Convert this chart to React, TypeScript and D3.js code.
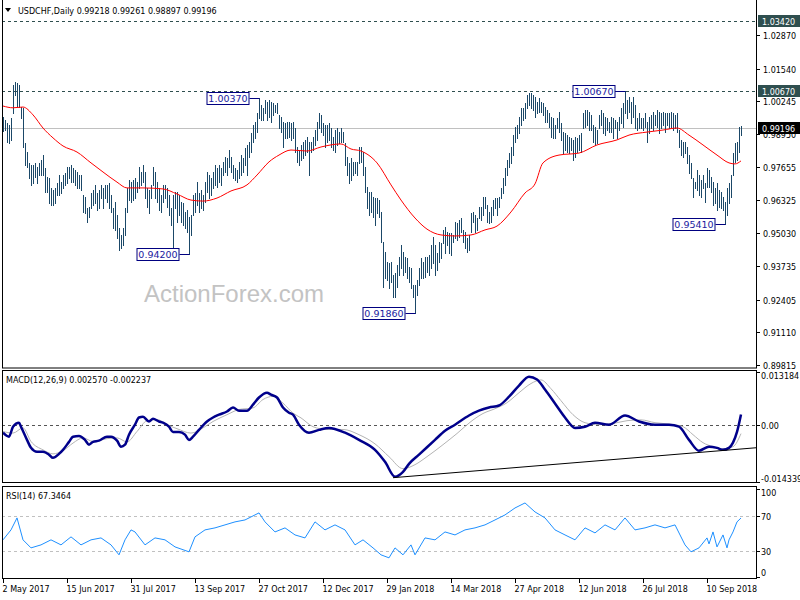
import React from "react";
import * as d3 from "d3";

// ---- Price bars (daily high / low), 2 May 2017 .. 3 Oct 2018 ----
const barHigh = [
  0.9964,0.9951,0.9938,0.9931,0.9958,1.0089,1.0103,1.0096,1.0089,1.0004,
  0.9997,0.9859,0.9826,0.9779,0.9773,0.9773,0.9779,0.9766,0.9779,0.9793,
  0.9812,0.9760,0.9727,0.9720,0.9681,0.9674,0.9681,0.9700,0.9733,0.9707,
  0.9733,0.9740,0.9766,0.9766,0.9773,0.9760,0.9753,0.9746,0.9733,0.9733,
  0.9654,0.9648,0.9601,0.9608,0.9661,0.9674,0.9694,0.9661,0.9674,0.9694,
  0.9681,0.9694,0.9694,0.9700,0.9654,0.9601,0.9628,0.9575,0.9522,0.9496,
  0.9522,0.9601,0.9681,0.9714,0.9707,0.9714,0.9720,0.9707,0.9766,0.9746,
  0.9773,0.9746,0.9681,0.9674,0.9694,0.9766,0.9746,0.9707,0.9681,0.9654,
  0.9694,0.9694,0.9681,0.9654,0.9601,0.9654,0.9667,0.9667,0.9654,0.9628,
  0.9621,0.9588,0.9595,0.9568,0.9575,0.9654,0.9661,0.9707,0.9661,0.9674,
  0.9654,0.9707,0.9746,0.9733,0.9720,0.9746,0.9773,0.9760,0.9773,0.9760,
  0.9786,0.9806,0.9799,0.9832,0.9806,0.9773,0.9760,0.9753,0.9786,0.9812,
  0.9799,0.9839,0.9852,0.9865,0.9898,0.9931,0.9944,0.9977,1.0037,1.0010,
  0.9997,1.0030,1.0023,1.0030,1.0023,1.0017,1.0010,1.0017,0.9971,0.9964,
  0.9944,0.9938,0.9944,0.9944,0.9938,0.9944,0.9918,0.9845,0.9832,0.9852,
  0.9865,0.9872,0.9885,0.9865,0.9865,0.9885,0.9911,0.9944,0.9977,0.9971,
  0.9938,0.9931,0.9931,0.9938,0.9918,0.9885,0.9911,0.9918,0.9905,0.9918,
  0.9905,0.9859,0.9806,0.9779,0.9799,0.9786,0.9786,0.9786,0.9845,0.9845,
  0.9826,0.9766,0.9687,0.9667,0.9667,0.9648,0.9641,0.9641,0.9634,0.9588,
  0.9469,0.9430,0.9390,0.9384,0.9390,0.9337,0.9344,0.9377,0.9410,0.9456,
  0.9430,0.9410,0.9403,0.9371,0.9364,0.9298,0.9298,0.9318,0.9364,0.9403,
  0.9390,0.9410,0.9410,0.9417,0.9456,0.9489,0.9456,0.9423,0.9469,0.9463,
  0.9516,0.9529,0.9509,0.9502,0.9502,0.9496,0.9549,0.9542,0.9555,0.9562,
  0.9516,0.9509,0.9483,0.9496,0.9582,0.9588,0.9575,0.9562,0.9608,0.9608,
  0.9648,0.9648,0.9615,0.9588,0.9608,0.9634,0.9641,0.9641,0.9648,0.9681,
  0.9720,0.9760,0.9793,0.9819,0.9845,0.9892,0.9925,0.9931,0.9964,0.9997,
  0.9997,1.0017,1.0050,1.0056,1.0056,1.0050,1.0043,1.0023,1.0037,1.0023,
  1.0017,1.0004,0.9990,0.9977,0.9964,0.9958,0.9931,0.9958,0.9984,0.9938,
  0.9905,0.9898,0.9892,0.9885,0.9878,0.9872,0.9885,0.9878,0.9892,0.9898,
  0.9977,0.9990,0.9990,0.9984,0.9971,0.9931,0.9925,0.9911,0.9971,0.9990,
  0.9977,0.9964,0.9958,0.9944,0.9964,0.9958,0.9951,0.9944,0.9964,0.9997,
  1.0017,1.0067,1.0030,1.0043,1.0023,1.0043,1.0010,0.9958,0.9977,0.9958,
  0.9958,0.9977,0.9944,0.9964,0.9971,0.9984,0.9971,0.9990,0.9984,0.9977,
  0.9984,0.9977,0.9977,0.9977,0.9984,0.9977,0.9971,0.9977,0.9911,0.9872,
  0.9865,0.9865,0.9845,0.9812,0.9779,0.9720,0.9707,0.9753,0.9733,0.9714,
  0.9733,0.9700,0.9760,0.9753,0.9727,0.9707,0.9681,0.9700,0.9674,0.9667,
  0.9648,0.9628,0.9681,0.9700,0.9733,0.9819,0.9859,0.9865,0.9925,0.9926,
];
const barLow = [
  0.9907,0.9911,0.9865,0.9859,0.9872,0.9977,1.0050,1.0004,1.0004,0.9958,
  0.9845,0.9773,0.9766,0.9720,0.9694,0.9700,0.9727,0.9700,0.9733,0.9733,
  0.9733,0.9667,0.9667,0.9621,0.9615,0.9615,0.9621,0.9654,0.9654,0.9661,
  0.9681,0.9694,0.9700,0.9720,0.9707,0.9707,0.9694,0.9681,0.9681,0.9674,
  0.9588,0.9582,0.9549,0.9568,0.9601,0.9615,0.9621,0.9595,0.9601,0.9641,
  0.9601,0.9641,0.9628,0.9601,0.9588,0.9522,0.9516,0.9483,0.9437,0.9443,
  0.9456,0.9496,0.9588,0.9634,0.9628,0.9634,0.9641,0.9667,0.9681,0.9694,
  0.9707,0.9641,0.9608,0.9582,0.9641,0.9694,0.9641,0.9628,0.9595,0.9588,
  0.9628,0.9641,0.9608,0.9575,0.9535,0.9450,0.9601,0.9549,0.9575,0.9549,
  0.9535,0.9522,0.9509,0.9420,0.9496,0.9575,0.9588,0.9615,0.9588,0.9601,
  0.9595,0.9628,0.9667,0.9641,0.9654,0.9681,0.9694,0.9687,0.9707,0.9694,
  0.9733,0.9746,0.9733,0.9766,0.9746,0.9720,0.9714,0.9707,0.9720,0.9733,
  0.9746,0.9773,0.9733,0.9806,0.9826,0.9865,0.9878,0.9905,0.9958,0.9951,
  0.9951,0.9977,0.9951,0.9964,0.9944,0.9971,0.9984,0.9977,0.9918,0.9905,
  0.9845,0.9878,0.9878,0.9885,0.9872,0.9878,0.9826,0.9786,0.9773,0.9793,
  0.9799,0.9812,0.9826,0.9733,0.9826,0.9832,0.9852,0.9872,0.9918,0.9905,
  0.9892,0.9845,0.9865,0.9872,0.9845,0.9832,0.9826,0.9852,0.9859,0.9865,
  0.9865,0.9773,0.9733,0.9700,0.9714,0.9733,0.9740,0.9733,0.9779,0.9786,
  0.9733,0.9667,0.9601,0.9575,0.9588,0.9568,0.9535,0.9582,0.9568,0.9469,
  0.9291,0.9324,0.9318,0.9285,0.9311,0.9252,0.9252,0.9291,0.9337,0.9364,
  0.9337,0.9351,0.9324,0.9311,0.9285,0.9252,0.9186,0.9258,0.9298,0.9324,
  0.9324,0.9331,0.9351,0.9337,0.9364,0.9384,0.9337,0.9357,0.9390,0.9403,
  0.9463,0.9423,0.9456,0.9423,0.9417,0.9469,0.9483,0.9476,0.9489,0.9509,
  0.9469,0.9443,0.9430,0.9437,0.9509,0.9549,0.9509,0.9516,0.9562,0.9555,
  0.9575,0.9601,0.9549,0.9542,0.9549,0.9575,0.9601,0.9575,0.9608,0.9641,
  0.9661,0.9694,0.9733,0.9766,0.9779,0.9812,0.9865,0.9878,0.9898,0.9931,
  0.9951,0.9958,0.9997,1.0010,0.9997,0.9990,0.9964,0.9977,0.9984,0.9984,
  0.9971,0.9944,0.9944,0.9925,0.9885,0.9878,0.9878,0.9918,0.9905,0.9872,
  0.9819,0.9832,0.9826,0.9819,0.9832,0.9793,0.9806,0.9826,0.9832,0.9826,
  0.9918,0.9925,0.9931,0.9911,0.9911,0.9865,0.9852,0.9859,0.9918,0.9931,
  0.9898,0.9892,0.9911,0.9905,0.9905,0.9878,0.9918,0.9878,0.9911,0.9938,
  0.9925,0.9977,0.9958,0.9984,0.9938,0.9964,0.9918,0.9911,0.9918,0.9918,
  0.9911,0.9925,0.9865,0.9898,0.9918,0.9911,0.9931,0.9925,0.9898,0.9918,
  0.9931,0.9905,0.9931,0.9918,0.9925,0.9911,0.9918,0.9905,0.9845,0.9812,
  0.9806,0.9819,0.9779,0.9740,0.9720,0.9648,0.9681,0.9674,0.9654,0.9648,
  0.9681,0.9628,0.9687,0.9687,0.9667,0.9615,0.9621,0.9595,0.9608,0.9601,
  0.9595,0.9541,0.9575,0.9621,0.9648,0.9733,0.9786,0.9793,0.9826,0.9890,
];

// ---- Moving average (red), sampled at bar indices ----
const maIdx = [0,5,10,15,20,25,30,37,44,50,57,62,70,80,87,94,100,107,114,122,127,133,138,144,152,159,169,174,179,187,194,199,206,212,219,226,234,241,247,254,261,266,270,278,288,297,307,313,322,330,337,343,350,357,363,366,369];
const maVal = [1.0006,0.9999,1.0002,0.9971,0.9919,0.9880,0.9848,0.9824,0.9781,0.9745,0.9705,0.9682,0.9682,0.9678,0.9658,0.9634,0.9630,0.9642,0.9670,0.9694,0.9733,0.9785,0.9812,0.9832,0.9828,0.9844,0.9856,0.9836,0.9828,0.9781,0.9694,0.9634,0.9563,0.9519,0.9496,0.9492,0.9496,0.9516,0.9531,0.9587,0.9662,0.9698,0.9781,0.9812,0.9820,0.9852,0.9872,0.9891,0.9903,0.9911,0.9919,0.9891,0.9852,0.9812,0.9781,0.9777,0.9789];

// ---- MACD(12,26,9) main line ----
const macdIdx = [0,3,5,8,9,12,14,17,20,23,25,28,30,33,35,38,41,43,45,48,52,54,57,59,61,63,66,68,70,73,75,78,80,83,85,88,91,93,95,98,102,105,108,112,115,118,122,125,128,132,134,137,140,143,145,148,153,158,163,171,178,186,191,196,200,203,208,216,221,226,233,238,243,248,253,258,263,267,271,276,281,286,291,296,303,311,318,326,333,338,343,348,353,357,360,363,365,367,369];
const macdVal = [-0.0020,-0.0030,-0.0005,0.0005,-0.0005,-0.0038,-0.0058,-0.0068,-0.0068,-0.0075,-0.0083,-0.0073,-0.0063,-0.0043,-0.0030,-0.0028,-0.0038,-0.0050,-0.0043,-0.0040,-0.0030,-0.0030,-0.0040,-0.0055,-0.0050,-0.0025,0.0000,0.0018,0.0020,0.0008,0.0015,0.0008,0.0005,-0.0005,-0.0018,-0.0018,-0.0025,-0.0038,-0.0030,-0.0013,0.0008,0.0018,0.0025,0.0033,0.0043,0.0035,0.0035,0.0050,0.0068,0.0080,0.0075,0.0068,0.0043,0.0030,0.0025,0.0000,-0.0020,-0.0013,-0.0008,-0.0020,-0.0038,-0.0063,-0.0093,-0.0130,-0.0118,-0.0098,-0.0075,-0.0038,-0.0015,0.0000,0.0023,0.0035,0.0043,0.0048,0.0070,0.0098,0.0120,0.0113,0.0088,0.0053,0.0018,-0.0008,-0.0005,0.0005,0.0000,0.0023,0.0008,0.0000,0.0000,-0.0005,-0.0038,-0.0065,-0.0055,-0.0058,-0.0063,-0.0058,-0.0045,-0.0018,0.00257];

// ---- MACD signal line ----
const sigIdx = [0,5,10,14,20,25,30,35,40,45,52,57,62,67,72,77,82,87,94,100,105,112,118,125,130,135,140,145,149,155,162,170,178,186,193,200,206,212,220,227,234,240,246,252,258,264,269,274,279,285,291,298,305,312,319,326,334,340,345,350,355,360,365,369];
const sigVal = [-0.0017,-0.0021,-0.0008,-0.0042,-0.0063,-0.0073,-0.0065,-0.0046,-0.0033,-0.0042,-0.0035,-0.0033,-0.0043,-0.0017,0.0010,0.0013,0.0000,-0.0010,-0.0021,-0.0008,0.0008,0.0025,0.0038,0.0042,0.0063,0.0071,0.0054,0.0029,0.0017,-0.0005,-0.0012,-0.0012,-0.0025,-0.0048,-0.0080,-0.0110,-0.0100,-0.0080,-0.0050,-0.0022,0.0008,0.0028,0.0040,0.0055,0.0080,0.0103,0.0112,0.0090,0.0060,0.0025,0.0005,0.0000,0.0003,0.0010,0.0012,0.0005,0.0001,-0.0005,-0.0025,-0.0045,-0.0055,-0.0060,-0.0055,-0.002237];

// ---- Trend line on MACD ----
const trendIdx = [195, 377];
const trendVal = [-0.01326, -0.00575];

// ---- RSI(14) ----
const rsiIdx = [0,4,7,10,14,19,24,29,34,39,44,49,54,58,61,64,66,71,76,81,86,93,96,101,106,111,116,121,128,131,136,141,146,151,156,161,166,171,176,180,185,189,193,196,200,204,206,211,216,221,226,231,236,241,246,251,256,261,266,271,276,281,286,291,296,301,306,311,316,321,326,331,336,341,344,348,352,353,355,357,360,362,363,365,367,368,369];
const rsiVal = [42.5,53.8,67.4,42.5,33.4,36.8,42.5,36.8,45.9,36.8,42.5,44.7,36.8,25.5,42.5,53.8,51.5,36.8,44.7,42.5,34.5,28.9,45.9,53.8,56.1,59.5,62.9,65.1,73.1,62.9,51.5,56.1,48.1,44.7,62.9,53.8,59.5,53.8,36.8,42.5,33.4,25.5,22.1,33.4,25.5,36.8,25.5,44.7,42.5,51.5,48.1,53.8,56.1,59.5,65.1,70.8,78.7,84.4,74.2,67.4,53.8,48.1,42.5,56.1,50.4,59.5,53.8,67.4,53.8,56.1,59.5,56.1,59.5,36.8,28.9,33.4,44.7,37.9,51.5,34.5,48.1,33.4,42.5,51.5,62.9,65.1,67.3464];

// ---- Axis ticks / levels / annotations ----
const priceTicks = [1.0287, 1.0154, 1.00245, 0.9895, 0.97655, 0.96325, 0.9503, 0.93735, 0.92405, 0.9111, 0.89815];
const levelPrices = [1.0342, 1.0067];
const lastPrice = 0.99196;
const annIdx = [128, 93, 206, 311, 361];
const annPrice = [1.0037, 0.942, 0.9186, 1.0067, 0.9541];
const macdTicks = [0.013184, 0, -0.014339];
const macdTickLabels = ["0.013184", "0.00", "-0.014339"];
const rsiTicks = [100, 70, 30, 0];
const rsiLevels = [70, 30];
const dateTickIdx = [0, 32, 64, 96, 128, 160, 192, 224, 256, 288, 320, 352];
const dateTickLabels = ["2 May 2017", "15 Jun 2017", "31 Jul 2017", "13 Sep 2017", "27 Oct 2017", "12 Dec 2017", "29 Jan 2018", "14 Mar 2018", "27 Apr 2018", "12 Jun 2018", "26 Jul 2018", "10 Sep 2018"];

const FONT = "'DejaVu Sans', Tahoma, sans-serif";

export default function App() {
  const L = 2, R = 757;
  const mainTop = 0, mainBot = 368;
  const macdTop = 370, macdBot = 483;
  const rsiTop = 486, rsiBot = 579;

  const x = d3.scaleLinear().domain([0, 369]).range([3, 741]);
  const yP = d3.scaleLinear().domain([0.89815, 1.0287]).range([365, 35]);
  const yM = d3.scaleLinear().domain([-0.014339, 0.013184]).range([482, 372]);
  const yR = d3.scaleLinear().domain([0, 100]).range([577.3, 489.2]);

  const px = (i: number) => Math.round(x(i)) + 0.5;

  const maLine = d3.line<number>().x((d, k) => x(maIdx[k])).y((d) => yP(d)).curve(d3.curveMonotoneX)(maVal) || "";
  const macdLine = d3.line<number>().x((d, k) => x(macdIdx[k])).y((d) => yM(d)).curve(d3.curveMonotoneX)(macdVal) || "";
  const sigLine = d3.line<number>().x((d, k) => x(sigIdx[k])).y((d) => yM(d)).curve(d3.curveMonotoneX)(sigVal) || "";
  const rsiLine = d3.line<number>().x((d, k) => x(rsiIdx[k])).y((d) => yR(d)).curve(d3.curveLinear)(rsiVal) || "";
  const trendLine = d3.line<number>().x((d, k) => x(trendIdx[k])).y((d) => yM(d))(trendVal) || "";

  const barColor = "#1b4868";

  return (
    <svg width={800} height={600} style={{ position: "fixed", left: 0, top: 0, background: "#fff" }} fontFamily={FONT}>
      <defs>
        <clipPath id="cMain"><rect x={L} y={mainTop} width={R - L} height={mainBot - mainTop} /></clipPath>
        <clipPath id="cMacd"><rect x={L} y={macdTop} width={R - L} height={macdBot - macdTop} /></clipPath>
        <clipPath id="cRsi"><rect x={L} y={rsiTop} width={R - L} height={rsiBot - rsiTop} /></clipPath>
      </defs>
      <rect x={0} y={0} width={800} height={600} fill="#fff" />

      {/* ===== Main panel ===== */}
      <text x={144} y={302} fontFamily="'Liberation Sans', Arial, sans-serif" fontSize={24} fill="#c3c3c3">ActionForex.com</text>
      <g clipPath="url(#cMain)">
        {levelPrices.map((p, k) => (
          <line key={k} x1={L} x2={R} y1={Math.round(yP(p)) + 0.5} y2={Math.round(yP(p)) + 0.5} stroke="#2f4f4f" strokeDasharray="3,3" />
        ))}
        <line x1={L} x2={R} y1={Math.round(yP(lastPrice)) + 0.5} y2={Math.round(yP(lastPrice)) + 0.5} stroke="#c0c0c0" />
        {barHigh.map((h, i) => (
          <line key={i} x1={px(i)} x2={px(i)} y1={Math.round(yP(h))} y2={Math.round(yP(barLow[i])) + 1} stroke={barColor} strokeWidth={1} />
        ))}
        <path d={maLine} fill="none" stroke="#ff0000" strokeWidth={1} />
        {annIdx.map((ai, k) => {
          const yy = Math.round(yP(annPrice[k])) + 0.5;
          const bx = px(ai) - 10;
          return (
            <g key={k}>
              <line x1={bx} x2={px(ai)} y1={yy} y2={yy} stroke="#000080" />
              <rect x={bx - 42.5} y={yy - 6} width={42} height={12} fill="#fff" stroke="#000080" />
              <text x={bx - 21.5} y={yy + 3.6} textAnchor="middle" fontSize={9.5} fill="#1a1aa0">{annPrice[k].toFixed(5)}</text>
            </g>
          );
        })}
      </g>
      {/* title */}
      <path d="M5,8 L11,8 L8,12 Z" fill="#000" />
      <text x={18} y={14} fontSize={8} fill="#000">USDCHF,Daily  0.99218 0.99261 0.98897 0.99196</text>

      {/* ===== MACD panel ===== */}
      <g clipPath="url(#cMacd)">
        <line x1={L} x2={R} y1={Math.round(yM(0)) + 0.5} y2={Math.round(yM(0)) + 0.5} stroke="#555" strokeDasharray="3,3" />
        <path d={sigLine} fill="none" stroke="#b4b4b4" strokeWidth={1} />
        <path d={macdLine} fill="none" stroke="#00008b" strokeWidth={2.5} strokeLinejoin="round" />
        <path d={trendLine} fill="none" stroke="#000" strokeWidth={1} />
      </g>
      <text x={6} y={383} fontSize={8} fill="#000">MACD(12,26,9) 0.002570 -0.002237</text>

      {/* ===== RSI panel ===== */}
      <g clipPath="url(#cRsi)">
        {rsiLevels.map((v, k) => (
          <line key={k} x1={L} x2={R} y1={Math.round(yR(v)) + 0.5} y2={Math.round(yR(v)) + 0.5} stroke="#c0c0c0" strokeDasharray="3,3" />
        ))}
        <path d={rsiLine} fill="none" stroke="#1e90ff" strokeWidth={1} />
      </g>
      <text x={6} y={499} fontSize={8} fill="#000">RSI(14) 67.3464</text>

      {/* ===== frames ===== */}
      <rect x={L + 0.5} y={mainTop - 1} width={R - L - 1} height={mainBot - mainTop + 1} fill="none" stroke="#000" />
      <rect x={L + 0.5} y={macdTop + 0.5} width={R - L - 1} height={macdBot - macdTop - 1} fill="none" stroke="#000" />
      <rect x={L + 0.5} y={rsiTop + 0.5} width={R - L - 1} height={rsiBot - rsiTop - 1} fill="none" stroke="#000" />

      {/* ===== right axis: price ===== */}
      {priceTicks.map((p, k) => {
        const yy = Math.round(yP(p)) + 0.5;
        return (
          <g key={k}>
            <line x1={R - 1} x2={R + 3} y1={yy} y2={yy} stroke="#000" />
            <text x={763} y={yy + 3} fontSize={8} fill="#000">{p.toFixed(5)}</text>
          </g>
        );
      })}
      {levelPrices.map((p, k) => {
        const yy = Math.round(yP(p));
        return (
          <g key={k}>
            <rect x={758} y={yy - 6} width={42} height={12} fill="#2f4f4f" />
            <text x={762} y={yy + 3.5} fontSize={8} fill="#fff">{p.toFixed(5)}</text>
          </g>
        );
      })}
      <rect x={758} y={Math.round(yP(lastPrice)) - 6} width={42} height={12} fill="#000" />
      <text x={762} y={Math.round(yP(lastPrice)) + 3.5} fontSize={8} fill="#fff">{lastPrice.toFixed(5)}</text>

      {/* ===== right axis: MACD ===== */}
      {macdTicks.map((v, k) => {
        const yy = Math.round(yM(v)) + 0.5;
        return (
          <g key={k}>
            <line x1={R - 1} x2={R + 3} y1={yy} y2={yy} stroke="#000" />
            <text x={761} y={k === 0 ? yy + 6 : k === 2 ? yy - 1 : yy + 3} fontSize={8} fill="#000">{macdTickLabels[k]}</text>
          </g>
        );
      })}

      {/* ===== right axis: RSI ===== */}
      {rsiTicks.map((v, k) => {
        const yy = Math.round(yR(v)) + 0.5;
        const ty = v === 100 ? yy + 6 : v === 0 ? yy - 2 : yy + 3;
        return (
          <g key={k}>
            <line x1={R - 1} x2={R + 3} y1={yy} y2={yy} stroke="#000" />
            <text x={761} y={ty} fontSize={8} fill="#000">{v}</text>
          </g>
        );
      })}

      {/* ===== bottom date axis ===== */}
      {dateTickIdx.map((di, k) => (
        <g key={k}>
          <line x1={px(di)} x2={px(di)} y1={rsiBot} y2={rsiBot + 4} stroke="#000" />
          <text x={px(di) - 1} y={592} fontSize={8} fill="#000">{dateTickLabels[k]}</text>
        </g>
      ))}
    </svg>
  );
}
